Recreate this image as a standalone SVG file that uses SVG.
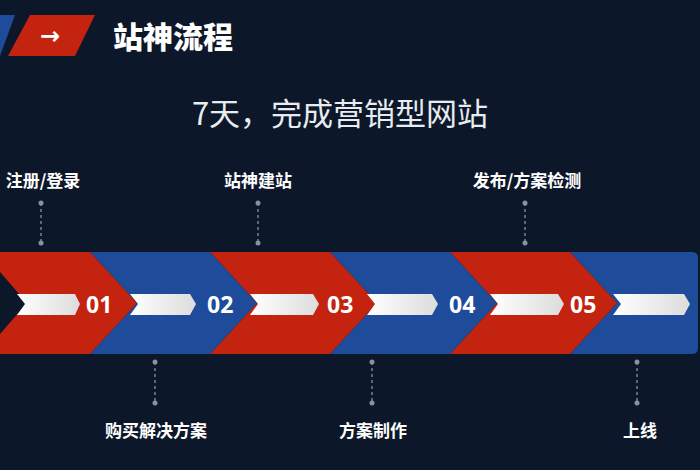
<svg xmlns="http://www.w3.org/2000/svg" width="700" height="470" viewBox="0 0 700 470">
<style>
.red{fill:#c3230f}.blue{fill:#1e4c9a}
.wa{fill:url(#wg)}
.num{font-family:"Open Sans","Liberation Sans",sans-serif;font-weight:bold;font-size:23px;fill:#fff}
.lbl{font-family:"Noto Sans CJK SC",sans-serif;font-weight:bold;font-size:17px;fill:#fff;text-anchor:middle}
.dl{stroke:#8a929c;stroke-width:1.3;stroke-dasharray:3 3}
.dot{fill:#8a929c}
</style>
<defs><linearGradient id="wg" x1="0" y1="0" x2="1" y2="0"><stop offset="0" stop-color="#ffffff"/><stop offset="1" stop-color="#dcdcdc"/></linearGradient></defs>
<rect width="700" height="470" fill="#0c1829"/>
<g id="header">
<polygon class="blue" points="0,15 15,15 0,56"/>
<polygon class="red" points="30,15 95,15 75,56 8,56"/>
<text x="50" y="44" font-family="DejaVu Sans,sans-serif" font-weight="bold" font-size="24" fill="#fff" text-anchor="middle">→</text>
<text x="113" y="48" font-family="Noto Sans CJK SC,sans-serif" font-weight="900" font-size="30" fill="#fff">站神流程</text>
<text x="340" y="125" font-family="Noto Sans CJK SC,sans-serif" font-size="31" fill="#e8ecf0" text-anchor="middle">7天，完成营销型网站</text>
</g>
<g id="band">
<path class="blue" d="M570,252 H692 Q698,252 698,258 V348 Q698,354 692,354 H570 L617,303 Z"/>
<polygon class="red" points="450,252 570,252 617,303 570,354 450,354 497,303"/>
<polygon class="blue" points="330,252 450,252 497,303 450,354 330,354 377,303"/>
<polygon class="red" points="210,252 330,252 377,303 330,354 210,354 257,303"/>
<polygon class="blue" points="90,252 210,252 257,303 210,354 90,354 137,303"/>
<polygon class="red" points="0,252 90,252 137,303 90,354 0,354"/>
<polygon fill="#0c1829" points="0,272 27,303 0,334"/>
</g>
<g id="arrows">
<polygon class="wa" points="17,294 75,294 80,304 75,315 17,315 25,304"/>
<polygon class="wa" points="130,294 190,294 196,304 190,315 130,315 138,304"/>
<polygon class="wa" points="250,294 313,294 319,304 313,315 250,315 258,304"/>
<polygon class="wa" points="367,294 432,294 438,304 432,315 367,315 375,304"/>
<polygon class="wa" points="490,294 558,294 564,304 558,315 490,315 498,304"/>
<polygon class="wa" points="613,294 684,294 690,304 684,315 613,315 621,304"/>
</g>
<g id="nums">
<text class="num" x="86" y="313">01</text>
<text class="num" x="207" y="313">02</text>
<text class="num" x="327" y="313">03</text>
<text class="num" x="449" y="313">04</text>
<text class="num" x="570" y="313">05</text>
</g>
<g id="connectors">
<line class="dl" x1="41" y1="203" x2="41" y2="243"/><circle class="dot" cx="41" cy="203" r="2.5"/><circle class="dot" cx="41" cy="243" r="2.5"/>
<line class="dl" x1="258" y1="203" x2="258" y2="243"/><circle class="dot" cx="258" cy="203" r="2.5"/><circle class="dot" cx="258" cy="243" r="2.5"/>
<line class="dl" x1="525" y1="203" x2="525" y2="243"/><circle class="dot" cx="525" cy="203" r="2.5"/><circle class="dot" cx="525" cy="243" r="2.5"/>
<line class="dl" x1="155" y1="362" x2="155" y2="403"/><circle class="dot" cx="155" cy="362" r="2.5"/><circle class="dot" cx="155" cy="403" r="2.5"/>
<line class="dl" x1="372" y1="362" x2="372" y2="403"/><circle class="dot" cx="372" cy="362" r="2.5"/><circle class="dot" cx="372" cy="403" r="2.5"/>
<line class="dl" x1="637" y1="362" x2="637" y2="403"/><circle class="dot" cx="637" cy="362" r="2.5"/><circle class="dot" cx="637" cy="403" r="2.5"/>
</g>
<g id="labels">
<text class="lbl" x="43" y="187">注册/登录</text>
<text class="lbl" x="258" y="187">站神建站</text>
<text class="lbl" x="527" y="187">发布/方案检测</text>
<text class="lbl" x="156" y="437">购买解决方案</text>
<text class="lbl" x="373" y="437">方案制作</text>
<text class="lbl" x="640" y="437">上线</text>
</g>
</svg>
